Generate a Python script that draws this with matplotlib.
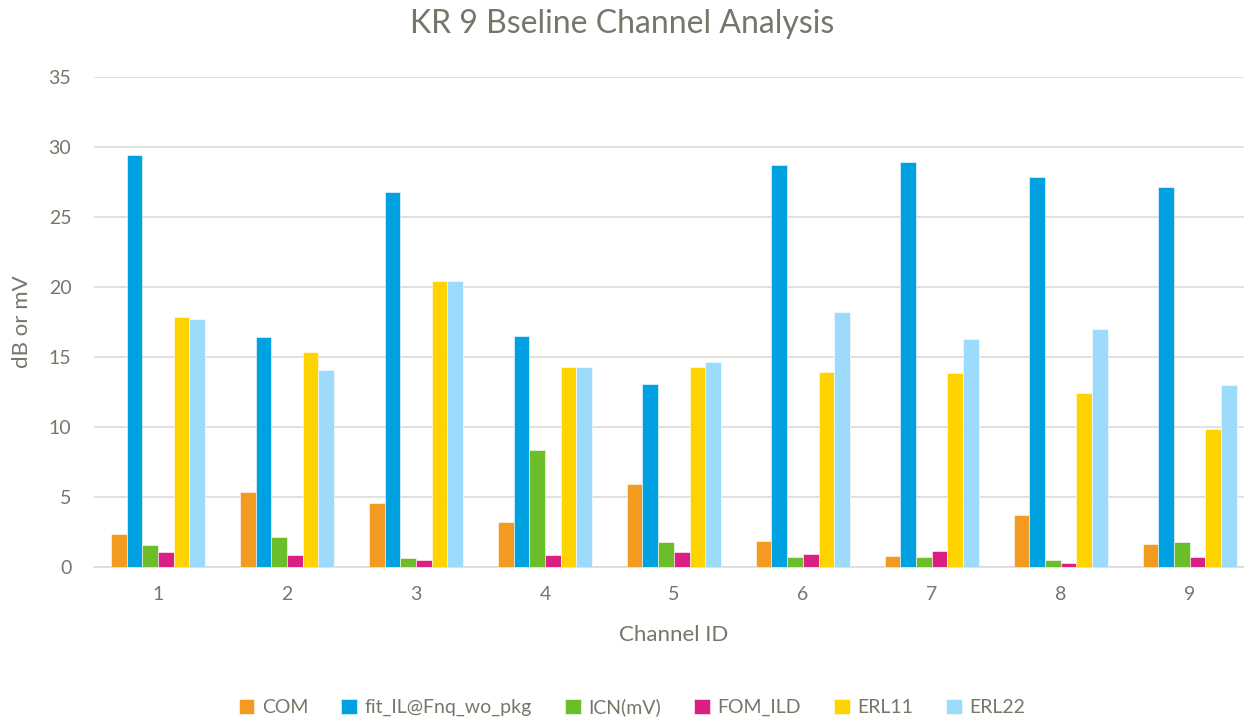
import matplotlib.pyplot as plt
import numpy as np

# channel data
channels = ['1', '2', '3', '4', '5', '6', '7', '8', '9']
com = [2.31, 5.33, 4.55, 3.17, 5.90, 1.86, 0.76, 3.69, 1.62]
fit_il = [29.40, 16.38, 26.74, 16.48, 13.07, 28.71, 28.90, 27.81, 27.10]
icn = [1.55, 2.12, 0.64, 8.36, 1.74, 0.69, 0.69, 0.48, 1.79]
fom_ild = [1.05, 0.83, 0.48, 0.83, 1.02, 0.88, 1.12, 0.26, 0.67]
erl11 = [17.84, 15.36, 20.43, 14.26, 14.26, 13.90, 13.81, 12.43, 9.81]
erl22 = [17.67, 14.02, 20.43, 14.26, 14.62, 18.17, 16.24, 17.00, 12.98]

series = [
    ("COM", com, '#F39A21'),
    ("fit_IL@Fnq_wo_pkg", fit_il, '#00A1E0'),
    ("ICN(mV)", icn, '#6CBD2A'),
    ("FOM_ILD", fom_ild, '#DB2085'),
    ("ERL11", erl11, '#FFD300'),
    ("ERL22", erl22, '#9DDBFD'),
]

text_color = '#76766A'
plt.rcParams['font.family'] = ['Lato', 'DejaVu Sans']

fig = plt.figure(figsize=(12.44, 7.21), dpi=100)
ax = fig.add_axes([0.0752, 0.214, 0.933, 0.6796])

x = np.arange(len(channels))
bar_w = 0.1217
for i, (name, vals, color) in enumerate(series):
    offset = (i - 2.5) * bar_w
    ax.bar(x + offset, vals, width=bar_w, color=color, label=name,
           edgecolor='white', linewidth=0.4, zorder=3)

ax.set_xlim(-0.5, len(channels) - 0.5)
ax.set_ylim(0, 35)
ax.set_yticks(range(0, 36, 5))
ax.set_xticks(x)
ax.set_xticklabels(channels)

# light gridlines, no frame except the baseline
ax.grid(True, axis='y', color='#D9D9D9', linewidth=1.1, zorder=0)
for side in ['top', 'right', 'left']:
    ax.spines[side].set_visible(False)
ax.spines['bottom'].set_color('#D9D9D9')
ax.spines['bottom'].set_linewidth(1.1)
ax.tick_params(axis='both', length=0, labelsize=14, labelcolor=text_color)
ax.tick_params(axis='y', pad=16)
ax.tick_params(axis='x', pad=14)

ax.set_xlabel("Channel ID", fontsize=16, color=text_color, labelpad=16)
ax.set_ylabel("dB or mV", fontsize=16, color=text_color, labelpad=12)

fig.text(0.5, 0.967, "KR 9 Bseline Channel Analysis", ha='center', va='center',
         fontsize=23, color=text_color)

fig.legend(loc='center', bbox_to_anchor=(632 / 1244, 14 / 721), ncol=6,
           frameon=False, fontsize=14, labelcolor=text_color,
           handlelength=0.8, handleheight=0.8, handletextpad=0.4, columnspacing=1.7)

fig.savefig('out.png', dpi=100)
